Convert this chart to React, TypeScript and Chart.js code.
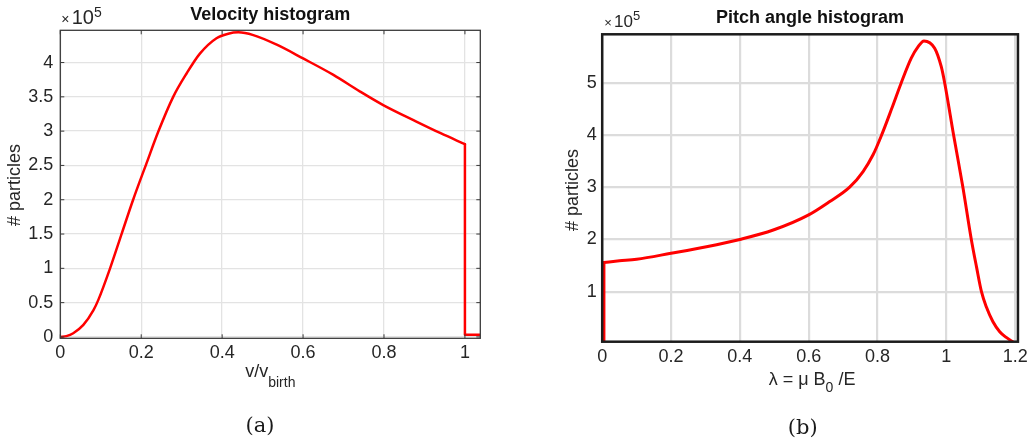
import React, { useEffect, useRef } from "react";
import { Chart, registerables } from "chart.js";

Chart.register(...registerables);

// ---------- data (counts in units of 10^5) ----------
const velTitle = "Velocity histogram";
const velX = [0, 0.015, 0.032, 0.057, 0.082, 0.094, 0.123, 0.152, 0.18, 0.213, 0.242, 0.279, 0.312, 0.345, 0.386, 0.415, 0.44, 0.477, 0.535, 0.6, 0.675, 0.74, 0.798, 0.88, 0.94, 1.0];
const velY = [0, 0.012, 0.054, 0.175, 0.39, 0.54, 1.0, 1.51, 2.0, 2.53, 2.99, 3.5, 3.84, 4.13, 4.355, 4.42, 4.44, 4.4, 4.26, 4.06, 3.82, 3.58, 3.38, 3.14, 2.97, 2.81];
const velDropX = [1.0, 1.0, 1.04];
const velDropY = [2.81, 0.03, 0.03];
const velXTicks = [0, 0.2, 0.4, 0.6, 0.8, 1];
const velYTicks = [0, 0.5, 1, 1.5, 2, 2.5, 3, 3.5, 4];

const pitchTitle = "Pitch angle histogram";
const pitchX = [0.005, 0.05, 0.1, 0.2, 0.303, 0.4, 0.497, 0.6, 0.66, 0.719, 0.758, 0.787, 0.812, 0.841, 0.869, 0.898, 0.918, 0.935, 0.966, 0.985, 0.995, 1.021, 1.048, 1.0725, 1.088, 1.102, 1.116, 1.135, 1.155, 1.174, 1.193];
const pitchY = [1.56, 1.59, 1.62, 1.735, 1.86, 2.0, 2.18, 2.47, 2.72, 3.0, 3.3, 3.62, 4.0, 4.5, 5.0, 5.47, 5.69, 5.8, 5.66, 5.31, 5.0, 4.0, 3.0, 2.0, 1.46, 1.0, 0.71, 0.43, 0.235, 0.125, 0.04];
const pitchEdgeX = [0.005, 0.005];
const pitchEdgeY = [0, 1.56];
const pitchXTicks = [0, 0.2, 0.4, 0.6, 0.8, 1, 1.2];
const pitchYTicks = [1, 2, 3, 4, 5];

const yLabel = "# particles";

const SANS = "'Liberation Sans', Arial, Helvetica, sans-serif";
const SERIF = "'DejaVu Serif', 'Liberation Serif', serif";
const TEXT = "#262626";

type Part = { text: string; size: number; dy?: number };

function drawParts(ctx: CanvasRenderingContext2D, parts: Part[], x: number, y: number, center: boolean) {
  const widths = parts.map((p) => {
    ctx.font = `${p.size}px ${SANS}`;
    return ctx.measureText(p.text).width;
  });
  const total = widths.reduce((a, b) => a + b, 0);
  let cx = center ? x - total / 2 : x;
  ctx.textAlign = "left";
  ctx.textBaseline = "alphabetic";
  parts.forEach((p, i) => {
    ctx.font = `${p.size}px ${SANS}`;
    ctx.fillText(p.text, cx, y + (p.dy || 0));
    cx += widths[i];
  });
}

const fmt = (v: number) => String(Math.round(v * 10) / 10);

interface PanelSpec {
  key: string;
  width: number;
  height: number;
  area: { left: number; top: number; right: number; bottom: number };
  titlePad: { top: number; bottom: number };
  title: string;
  xMin: number; xMax: number; yMin: number; yMax: number;
  xTicks: number[]; yTicks: number[];
  series: { xs: number[]; ys: number[]; smooth: boolean }[];
  gridColor: string; gridWidth: number;
  boxColor: string; boxWidth: number;
  tickLen: number;
  xPad: number; yPad: number;
  lineWidth: number;
  expParts: Part[]; expX: number; expY: number;
  xTitle: Part[]; xTitleDx: number; xTitleY: number;
  yTitleX: number; yTitleY: number;
  caption: string; captionX: number; captionY: number;
}

const AXIS_H = 30;

function makeConfig(p: PanelSpec): any {
  const decor = {
    id: "decor-" + p.key,
    afterDatasetsDraw(chart: any) {
      const { ctx, chartArea: a, scales } = chart;
      ctx.save();
      ctx.strokeStyle = p.boxColor;
      if (p.tickLen > 0) {
        ctx.lineWidth = 1;
        ctx.beginPath();
        scales.x.ticks.forEach((t: any) => {
          const px = scales.x.getPixelForValue(t.value);
          ctx.moveTo(px, a.bottom); ctx.lineTo(px, a.bottom - p.tickLen);
          ctx.moveTo(px, a.top); ctx.lineTo(px, a.top + p.tickLen);
        });
        scales.y.ticks.forEach((t: any) => {
          const py = scales.y.getPixelForValue(t.value);
          ctx.moveTo(a.left, py); ctx.lineTo(a.left + p.tickLen, py);
          ctx.moveTo(a.right, py); ctx.lineTo(a.right - p.tickLen, py);
        });
        ctx.stroke();
      }
      ctx.lineWidth = p.boxWidth;
      ctx.strokeRect(a.left, a.top, a.right - a.left, a.bottom - a.top);
      ctx.restore();
    },
    afterDraw(chart: any) {
      const { ctx, chartArea: a } = chart;
      ctx.save();
      ctx.fillStyle = TEXT;
      drawParts(ctx, p.expParts, a.left + p.expX, p.expY, false);
      drawParts(ctx, p.xTitle, (a.left + a.right) / 2 + p.xTitleDx, p.xTitleY, true);
      ctx.translate(p.yTitleX, p.yTitleY);
      ctx.rotate(-Math.PI / 2);
      ctx.font = `18px ${SANS}`;
      ctx.textAlign = "center";
      ctx.textBaseline = "middle";
      ctx.fillText(yLabel, 0, 0);
      ctx.restore();
      ctx.save();
      ctx.fillStyle = "#1a1a1a";
      ctx.font = `21px ${SERIF}`;
      ctx.textAlign = "center";
      ctx.textBaseline = "alphabetic";
      ctx.fillText(p.caption, p.captionX, p.captionY);
      ctx.restore();
    },
  };

  const tickFont = { family: SANS, size: 18 };
  return {
    type: "line",
    data: {
      datasets: p.series.map((s) => ({
        data: s.xs.map((x, i) => ({ x, y: s.ys[i] })),
        borderColor: "#ff0000",
        borderWidth: p.lineWidth,
        pointRadius: 0,
        fill: false,
        cubicInterpolationMode: s.smooth ? "monotone" : "default",
        tension: s.smooth ? 0.4 : 0,
        borderJoinStyle: "round",
        borderCapStyle: "round",
      })),
    },
    options: {
      animation: false,
      responsive: false,
      devicePixelRatio: 1,
      events: [],
      layout: {
        padding: {
          left: 0,
          top: 0,
          right: p.width - p.area.right,
          bottom: p.height - p.area.bottom - AXIS_H,
        },
      },
      plugins: {
        legend: { display: false },
        tooltip: { enabled: false },
        title: {
          display: true,
          text: p.title,
          fullSize: false,
          color: "#111",
          font: { family: SANS, size: 18, weight: "bold" },
          padding: p.titlePad,
        },
      },
      scales: {
        x: {
          type: "linear",
          min: p.xMin,
          max: p.xMax,
          afterBuildTicks: (s: any) => { s.ticks = p.xTicks.map((v) => ({ value: v })); },
          afterFit: (s: any) => { s.height = AXIS_H; },
          ticks: { callback: (v: number) => fmt(v), font: tickFont, color: TEXT, padding: p.xPad, maxRotation: 0, autoSkip: false },
          grid: { color: p.gridColor, lineWidth: p.gridWidth, drawTicks: false },
          border: { display: false },
        },
        y: {
          type: "linear",
          min: p.yMin,
          max: p.yMax,
          afterBuildTicks: (s: any) => { s.ticks = p.yTicks.map((v) => ({ value: v })); },
          afterFit: (s: any) => { s.width = p.area.left; },
          ticks: { callback: (v: number) => fmt(v), font: tickFont, color: TEXT, padding: p.yPad, autoSkip: false },
          grid: { color: p.gridColor, lineWidth: p.gridWidth, drawTicks: false },
          border: { display: false },
        },
      },
    },
    plugins: [decor],
  };
}

const leftSpec: PanelSpec = {
  key: "a",
  width: 500,
  height: 445,
  area: { left: 60.3, top: 30.3, right: 480.3, bottom: 338.3 },
  titlePad: { top: 4, bottom: 4.7 },
  title: velTitle,
  xMin: 0, xMax: 1.038, yMin: -0.02, yMax: 4.47,
  xTicks: velXTicks, yTicks: velYTicks,
  series: [
    { xs: velX, ys: velY, smooth: true },
    { xs: velDropX, ys: velDropY, smooth: false },
  ],
  gridColor: "#e3e3e3", gridWidth: 1.3,
  boxColor: "#3a3a3a", boxWidth: 1.3,
  tickLen: 4,
  xPad: 3.5, yPad: 7,
  lineWidth: 2.5,
  expParts: [{ text: "×", size: 14 }, { text: " ", size: 8 }, { text: "10", size: 20 }, { text: "5", size: 14, dy: -7.5 }],
  expX: 1, expY: 24,
  xTitle: [{ text: "v/v", size: 18 }, { text: "birth", size: 14, dy: 9.5 }],
  xTitleDx: 0, xTitleY: 377,
  yTitleX: 15.5, yTitleY: 185,
  caption: "(a)", captionX: 260, captionY: 432,
};

const rightSpec: PanelSpec = {
  key: "b",
  width: 512,
  height: 445,
  area: { left: 82.2, top: 34.3, right: 498.3, bottom: 341.7 },
  titlePad: { top: 7.5, bottom: 5.2 },
  title: pitchTitle,
  xMin: 0, xMax: 1.208, yMin: 0.043, yMax: 5.926,
  xTicks: pitchXTicks, yTicks: pitchYTicks,
  series: [
    { xs: pitchX, ys: pitchY, smooth: true },
    { xs: pitchEdgeX, ys: pitchEdgeY, smooth: false },
  ],
  gridColor: "#dcdcdc", gridWidth: 2.2,
  boxColor: "#1c1c1c", boxWidth: 2.5,
  tickLen: 0,
  xPad: 4.2, yPad: 5.5,
  lineWidth: 3,
  expParts: [{ text: "×", size: 13 }, { text: " ", size: 8 }, { text: "10", size: 17 }, { text: "5", size: 13, dy: -7 }],
  expX: 2, expY: 27.3,
  xTitle: [{ text: "λ = μ B", size: 18 }, { text: "0", size: 14, dy: 7 }, { text: " /E", size: 18 }],
  xTitleDx: 2, xTitleY: 385,
  yTitleX: 53, yTitleY: 190,
  caption: "(b)", captionX: 282.7, captionY: 434,
};

function Panel({ spec, left }: { spec: PanelSpec; left: number }) {
  const ref = useRef<HTMLCanvasElement | null>(null);
  useEffect(() => {
    if (!ref.current) return;
    const chart = new Chart(ref.current, makeConfig(spec));
    return () => chart.destroy();
  }, [spec]);
  return (
    <canvas
      ref={ref}
      width={spec.width}
      height={spec.height}
      style={{ position: "absolute", left, top: 0, width: spec.width, height: spec.height }}
    />
  );
}

export default function App() {
  return (
    <div
      style={{
        position: "fixed",
        left: 0,
        top: 0,
        width: 1032,
        height: 445,
        background: "#ffffff",
        overflow: "hidden",
      }}
    >
      <Panel spec={leftSpec} left={0} />
      <Panel spec={rightSpec} left={520} />
    </div>
  );
}
